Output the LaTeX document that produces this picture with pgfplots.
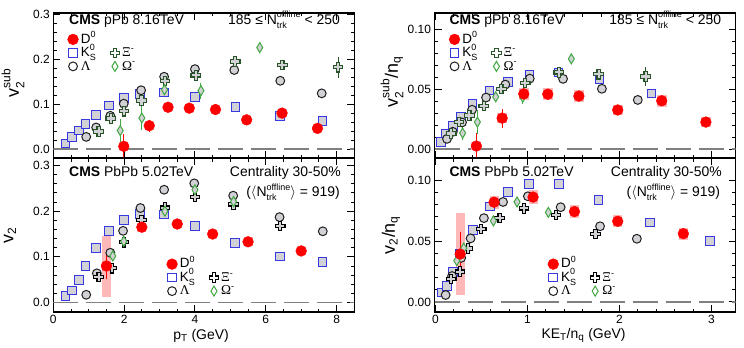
\documentclass[border=0pt]{standalone}
\usepackage{fontspec}
\setmainfont{Liberation Sans}
\newfontfamily\grk{Liberation Serif}
\usepackage{pgfplots}
\pgfplotsset{compat=1.18}

\newcommand\fs[1]{\fontsize{#1}{#1}\selectfont}
% stacked superscript/subscript in the text font
\newcommand\supsub[3][9]{\rlap{\raisebox{-0.45\dimexpr#1bp\relax}{\fs{#1}#3}}\raisebox{0.72\dimexpr#1bp\relax}{\fs{#1}#2}}
\newcommand\subs[2][9]{$_{\hbox{\fs{#1}#2}}$}
\newcommand\sups[2][9]{$^{\hbox{\fs{#1}#2}}$}

\definecolor{kscol}{rgb}{0.22,0.22,0.88}
\definecolor{lamcol}{rgb}{0.12,0.12,0.12}
\definecolor{xipp}{rgb}{0.16,0.33,0.16}
\definecolor{omcol}{rgb}{0.25,0.66,0.25}
\definecolor{sysgray}{rgb}{0.82,0.82,0.84}
\definecolor{dsys}{rgb}{1,0.72,0.72}
\definecolor{zerocol}{rgb}{0.5,0.5,0.5}

% open "plus" outline
\pgfdeclareplotmark{ocross}{%
  \pgfpathmoveto{\pgfqpoint{-0.34\pgfplotmarksize}{\pgfplotmarksize}}%
  \pgfpathlineto{\pgfqpoint{0.34\pgfplotmarksize}{\pgfplotmarksize}}%
  \pgfpathlineto{\pgfqpoint{0.34\pgfplotmarksize}{0.34\pgfplotmarksize}}%
  \pgfpathlineto{\pgfqpoint{\pgfplotmarksize}{0.34\pgfplotmarksize}}%
  \pgfpathlineto{\pgfqpoint{\pgfplotmarksize}{-0.34\pgfplotmarksize}}%
  \pgfpathlineto{\pgfqpoint{0.34\pgfplotmarksize}{-0.34\pgfplotmarksize}}%
  \pgfpathlineto{\pgfqpoint{0.34\pgfplotmarksize}{-\pgfplotmarksize}}%
  \pgfpathlineto{\pgfqpoint{-0.34\pgfplotmarksize}{-\pgfplotmarksize}}%
  \pgfpathlineto{\pgfqpoint{-0.34\pgfplotmarksize}{-0.34\pgfplotmarksize}}%
  \pgfpathlineto{\pgfqpoint{-\pgfplotmarksize}{-0.34\pgfplotmarksize}}%
  \pgfpathlineto{\pgfqpoint{-\pgfplotmarksize}{0.34\pgfplotmarksize}}%
  \pgfpathlineto{\pgfqpoint{-0.34\pgfplotmarksize}{0.34\pgfplotmarksize}}%
  \pgfpathclose
  \pgfusepathqfillstroke
}
% narrow open diamond
\pgfdeclareplotmark{odiam}{%
  \pgfpathmoveto{\pgfqpoint{0pt}{\pgfplotmarksize}}%
  \pgfpathlineto{\pgfqpoint{0.6\pgfplotmarksize}{0pt}}%
  \pgfpathlineto{\pgfqpoint{0pt}{-\pgfplotmarksize}}%
  \pgfpathlineto{\pgfqpoint{-0.6\pgfplotmarksize}{0pt}}%
  \pgfpathclose
  \pgfusepathqfillstroke
}

\pgfplotsset{
  panel/.style={scale only axis, width=301bp,
    axis line style={line width=1.1bp},
    every tick/.style={black, line width=0.9bp},
    major tick length=7bp, minor tick length=3.5bp,
    tick align=inside,
    tick label style={font=\fs{12}},
    /pgf/number format/assume math mode=true,
    legend cell align=left,
    legend columns=2,
    legend style={draw=none, fill=none, font=\fs{13.5}, inner sep=0pt, row sep=0pt,
      nodes={inner xsep=1.5bp, inner ysep=0.75bp, text height=9.75bp, text depth=2.25bp},
      /tikz/every odd column/.append style={column sep=1bp},
      /tikz/every even column/.append style={column sep=12bp}},
  },
  ebars/.style={
    /pgfplots/error bars/y dir=both, /pgfplots/error bars/y explicit,
    /pgfplots/error bars/error mark=none,
    /pgfplots/error bars/error bar style={line width=#1}},
  lmark/.style={only marks, legend image code/.code={\draw[mark repeat=2,mark phase=2,##1] plot coordinates {(0bp,0bp) (5.3bp,0bp) (10.6bp,0bp)};}},
  d0/.style={only marks, mark=*, mark size=5.4bp, red},
  ks/.style={only marks, mark=square*, mark size=4.3bp, kscol, mark options={line width=1bp, fill=sysgray}},
  lam/.style={only marks, mark=*, mark size=4.4bp, lamcol, mark options={line width=1bp, fill=sysgray}},
  xi/.style={only marks, mark=ocross, mark size=4.7bp, #1, mark options={line width=1.1bp, fill=sysgray}, ebars=1bp},
  om/.style={only marks, mark=odiam, mark size=5bp, omcol, mark options={line width=1bp, fill=sysgray}, ebars=1bp},
  dsyst/.style={only marks, mark=none, forget plot, dsys, ebars=#1},
  stat/.style={only marks, mark=none, forget plot, red, ebars=1bp},
  zero/.style={zerocol, line width=1.2bp, dash pattern=on 25bp off 8bp, forget plot},
  leg/.style={/pgfplots/legend style={at={(#1)}, anchor=north west}},
}

% legend block shared by all panels
\newcommand\speclegend[1]{%
  \addlegendimage{d0, lmark}\addlegendentry{D\sups{0}}
  \addlegendimage{empty legend}\addlegendentry{}
  \addlegendimage{ks, lmark, mark options={line width=1bp, fill=white}}\addlegendentry{K\supsub{0}{S}}
  \addlegendimage{only marks, mark=ocross, mark size=4.7bp, #1, lmark, mark options={line width=1.1bp, fill=white}}\addlegendentry{{\grk Ξ}\sups{-}}
  \addlegendimage{lam, lmark, mark options={line width=1bp, fill=white}}\addlegendentry{{\grk Λ}}
  \addlegendimage{only marks, mark=odiam, mark size=5bp, omcol, lmark, mark options={line width=1bp, fill=white}}\addlegendentry{{\grk Ω}\sups{-}}
}

\begin{document}
\begin{tikzpicture}
\path[use as bounding box] (0,0) rectangle (744bp,-348bp);

% ---------------- pPb, v2sub vs pT ----------------
\begin{axis}[panel, at={(53.3bp,-158bp)}, anchor=south west, height=145bp,
  xmin=0, xmax=8.5, ymin=-0.02, ymax=0.303,
  xtick={0,2,4,6,8}, minor x tick num=3, xticklabels={},
  ytick={0,0.1,0.2,0.3}, minor y tick num=4,
  yticklabel style={/pgf/number format/.cd, fixed, fixed zerofill, precision=1},
  leg={0.047,0.866}]
\addplot[zero] coordinates {(0,0) (8.5,0)};
\addplot[dsyst=9bp] table[x=x, y=y, y error plus=sp, y error minus=sm, row sep=\\] {
x y sm sp\\ 1.99 0.006 0.006 0.006\\ 2.71 0.052 0.007 0.007\\ 3.24 0.093 0.008 0.008\\
3.84 0.091 0.008 0.008\\ 4.58 0.088 0.007 0.007\\ 5.46 0.065 0.006 0.006\\
6.46 0.080 0.008 0.008\\ 7.46 0.046 0.006 0.006\\};
\addplot[forget plot, ks] table[row sep=\\] {
x y\\ 0.35 0.0125\\ 0.52 0.027\\ 0.73 0.041\\ 0.91 0.056\\ 1.20 0.076\\ 1.58 0.097\\
1.99 0.113\\ 2.45 0.122\\ 3.13 0.126\\ 4.00 0.116\\ 5.15 0.093\\ 6.41 0.074\\ 7.60 0.063\\};
\addplot[forget plot, lam] table[row sep=\\] {
x y\\ 0.93 0.027\\ 1.21 0.048\\ 1.61 0.074\\ 1.99 0.101\\ 2.48 0.131\\ 3.13 0.161\\
4.00 0.178\\ 5.11 0.176\\ 6.41 0.152\\ 7.58 0.124\\};
\addplot[forget plot, xi=xipp] table[x=x, y=y, y error=e, row sep=\\] {
x y e\\ 1.28 0.039 0.006\\ 1.62 0.068 0.006\\ 1.99 0.084 0.008\\ 2.49 0.108 0.008\\
3.15 0.151 0.010\\ 4.02 0.164 0.010\\ 5.14 0.195 0.010\\ 6.47 0.187 0.012\\ 8.04 0.182 0.024\\};
\addplot[forget plot, om] table[x=x, y=y, y error=e, row sep=\\] {
x y e\\ 1.89 0.041 0.026\\ 2.50 0.069 0.026\\ 3.14 0.132 0.012\\ 4.17 0.130 0.018\\ 5.83 0.226 0.008\\};
\addplot[stat] table[x=x, y=y, y error=e, row sep=\\] {
x y e\\ 1.99 0.006 0.028\\ 2.71 0.052 0.013\\ 3.24 0.093 0.005\\ 3.84 0.091 0.004\\
4.58 0.088 0.004\\ 5.46 0.065 0.004\\ 6.46 0.080 0.005\\ 7.46 0.046 0.006\\};
\addplot[forget plot, d0] table[row sep=\\] {
x y\\ 1.99 0.006\\ 2.71 0.052\\ 3.24 0.093\\ 3.84 0.091\\ 4.58 0.088\\ 5.46 0.065\\ 6.46 0.080\\ 7.46 0.046\\};
\speclegend{xipp}
\end{axis}

% ---------------- PbPb, v2 vs pT ----------------
\begin{axis}[panel, at={(53.3bp,-312bp)}, anchor=south west, height=154bp,
  xmin=0, xmax=8.5, ymin=-0.0207, ymax=0.3165,
  xtick={0,2,4,6,8}, minor x tick num=3,
  ytick={0,0.1,0.2,0.3}, minor y tick num=4,
  yticklabel style={/pgf/number format/.cd, fixed, fixed zerofill, precision=1},
  leg={0.376,0.356}]
\addplot[zero] coordinates {(0,0) (8.5,0)};
\addplot[dsyst=9bp] table[x=x, y=y, y error plus=sp, y error minus=sm, row sep=\\] {
x y sm sp\\ 1.5 0.080 0.068 0.066\\ 2.5 0.165 0.010 0.010\\ 3.5 0.172 0.009 0.009\\
4.5 0.150 0.009 0.009\\ 5.5 0.133 0.010 0.010\\ 7.0 0.113 0.008 0.008\\};
\addplot[forget plot, ks] table[row sep=\\] {
x y\\ 0.35 0.014\\ 0.52 0.026\\ 0.73 0.050\\ 0.91 0.080\\ 1.20 0.119\\ 1.58 0.157\\
1.99 0.181\\ 2.45 0.194\\ 3.13 0.193\\ 4.00 0.168\\ 5.13 0.130\\ 6.41 0.101\\ 7.60 0.089\\};
\addplot[forget plot, lam] table[row sep=\\] {
x y\\ 0.93 0.017\\ 1.23 0.064\\ 1.61 0.109\\ 1.97 0.157\\ 2.46 0.207\\ 3.13 0.247\\
3.98 0.261\\ 5.08 0.234\\ 6.39 0.187\\ 7.61 0.156\\};
\addplot[forget plot, xi=black] table[x=x, y=y, y error=e, row sep=\\] {
x y e\\ 1.28 0.056 0.003\\ 1.66 0.075 0.003\\ 1.99 0.132 0.003\\ 2.49 0.180 0.003\\
3.15 0.208 0.003\\ 4.00 0.231 0.004\\ 5.09 0.215 0.004\\ 6.41 0.168 0.005\\};
\addplot[forget plot, om] table[x=x, y=y, y error=e, row sep=\\] {
x y e\\ 1.68 0.102 0.004\\ 1.99 0.134 0.004\\ 3.15 0.200 0.004\\ 4.00 0.247 0.005\\ 5.09 0.221 0.005\\};
\addplot[stat] table[x=x, y=y, y error=e, row sep=\\] {
x y e\\ 1.5 0.080 0.028\\ 2.5 0.165 0.004\\ 3.5 0.172 0.004\\ 4.5 0.150 0.004\\ 5.5 0.133 0.005\\ 7.0 0.113 0.006\\};
\addplot[forget plot, d0] table[row sep=\\] {
x y\\ 1.5 0.080\\ 2.5 0.165\\ 3.5 0.172\\ 4.5 0.150\\ 5.5 0.133\\ 7.0 0.113\\};
\speclegend{black}
\end{axis}

% ---------------- pPb, v2sub/nq vs KET/nq ----------------
\begin{axis}[panel, at={(434.5bp,-158bp)}, anchor=south west, height=145bp,
  xmin=-0.009, xmax=3.262, ymin=-0.0075, ymax=0.1136,
  xtick={0,1,2,3}, minor x tick num=4, xticklabels={},
  ytick={0,0.05,0.1}, minor y tick num=4,
  yticklabel style={/pgf/number format/.cd, fixed, fixed zerofill, precision=2},
  leg={0.048,0.866}]
\addplot[zero] coordinates {(-0.009,0) (3.262,0)};
\addplot[dsyst=10bp] table[x=x, y=y, y error plus=sp, y error minus=sm, row sep=\\] {
x y sm sp\\ 0.446 0.0025 0.003 0.003\\ 0.726 0.0258 0.004 0.004\\ 0.961 0.0460 0.005 0.005\\
1.222 0.0458 0.005 0.005\\ 1.560 0.0442 0.005 0.005\\ 1.982 0.0326 0.004 0.004\\
2.460 0.0403 0.005 0.005\\ 2.940 0.0225 0.004 0.004\\};
\addplot[forget plot, ks] table[row sep=\\] {
x y\\ 0.062 0.0058\\ 0.116 0.0128\\ 0.192 0.0194\\ 0.276 0.0272\\ 0.406 0.0378\\ 0.587 0.0489\\
0.787 0.0558\\ 1.022 0.0619\\ 1.337 0.0638\\ 1.782 0.0585\\ 2.347 0.0465\\};
\addplot[forget plot, lam] table[row sep=\\] {
x y\\ 0.127 0.0085\\ 0.190 0.0144\\ 0.290 0.0222\\ 0.399 0.0328\\ 0.551 0.0430\\ 0.761 0.0538\\
1.026 0.0588\\ 1.388 0.0586\\ 1.810 0.0503\\ 2.200 0.0410\\};
\addplot[forget plot, xi=xipp] table[x=x, y=y, y error=e, row sep=\\] {
x y e\\ 0.173 0.0130 0.002\\ 0.256 0.0227 0.002\\ 0.370 0.0280 0.003\\ 0.526 0.0360 0.003\\
0.718 0.0500 0.003\\ 0.978 0.0550 0.003\\ 1.341 0.0640 0.003\\ 1.774 0.0624 0.004\\ 2.285 0.0606 0.008\\};
\addplot[forget plot, om] table[x=x, y=y, y error=e, row sep=\\] {
x y e\\ 0.297 0.0133 0.006\\ 0.457 0.0225 0.010\\ 0.656 0.0436 0.004\\ 0.950 0.0433 0.006\\ 1.478 0.0753 0.003\\};
\addplot[stat] table[x=x, y=y, y error=e, row sep=\\] {
x y e\\ 0.446 0.0025 0.011\\ 0.726 0.0258 0.008\\ 0.961 0.0460 0.005\\ 1.222 0.0458 0.003\\
1.560 0.0442 0.003\\ 1.982 0.0326 0.003\\ 2.460 0.0403 0.003\\ 2.940 0.0225 0.004\\};
\addplot[forget plot, d0] table[row sep=\\] {
x y\\ 0.446 0.0025\\ 0.726 0.0258\\ 0.961 0.0460\\ 1.222 0.0458\\ 1.560 0.0442\\
1.982 0.0326\\ 2.460 0.0403\\ 2.940 0.0225\\};
\speclegend{xipp}
\end{axis}

% ---------------- PbPb, v2/nq vs KET/nq ----------------
\begin{axis}[panel, at={(434.5bp,-312bp)}, anchor=south west, height=154bp,
  xmin=-0.009, xmax=3.262, ymin=-0.0083, ymax=0.1185,
  xtick={0,1,2,3}, minor x tick num=4,
  ytick={0,0.05,0.1}, minor y tick num=4,
  yticklabel style={/pgf/number format/.cd, fixed, fixed zerofill, precision=2},
  leg={0.376,0.356}]
\addplot[zero] coordinates {(-0.009,0) (3.262,0)};
\addplot[dsyst=9bp] table[x=x, y=y, y error plus=sp, y error minus=sm, row sep=\\] {
x y sm sp\\ 0.270 0.0394 0.0339 0.0336\\ 0.638 0.0821 0.0055 0.0055\\ 1.062 0.0863 0.006 0.006\\
1.512 0.0744 0.005 0.005\\ 1.982 0.0664 0.005 0.005\\ 2.695 0.0562 0.005 0.005\\};
\addplot[forget plot, ks] table[row sep=\\] {
x y\\ 0.066 0.0078\\ 0.127 0.0132\\ 0.192 0.0248\\ 0.270 0.0400\\ 0.410 0.0590\\ 0.591 0.0785\\
0.787 0.0904\\ 1.015 0.0970\\ 1.341 0.0970\\ 1.772 0.0840\\ 2.334 0.0653\\ 2.986 0.0504\\};
\addplot[forget plot, lam] table[row sep=\\] {
x y\\ 0.112 0.0057\\ 0.182 0.0213\\ 0.281 0.0363\\ 0.383 0.0523\\ 0.528 0.0690\\ 0.736 0.0823\\
1.006 0.0870\\ 1.362 0.0780\\ 1.790 0.0623\\ 2.190 0.0520\\};
\addplot[forget plot, xi=black] table[x=x, y=y, y error=e, row sep=\\] {
x y e\\ 0.173 0.0187 0.001\\ 0.267 0.0250 0.001\\ 0.356 0.0440 0.001\\ 0.499 0.0600 0.001\\
0.698 0.0693 0.001\\ 0.964 0.0770 0.001\\ 1.312 0.0717 0.001\\ 1.741 0.0560 0.002\\};
\addplot[forget plot, om] table[x=x, y=y, y error=e, row sep=\\] {
x y e\\ 0.233 0.0340 0.001\\ 0.309 0.0443 0.001\\ 0.631 0.0667 0.001\\ 0.888 0.0823 0.002\\ 1.228 0.0737 0.002\\};
\addplot[stat] table[x=x, y=y, y error=e, row sep=\\] {
x y e\\ 0.270 0.0394 0.018\\ 0.638 0.0821 0.002\\ 1.062 0.0863 0.002\\ 1.512 0.0744 0.002\\
1.982 0.0664 0.002\\ 2.695 0.0562 0.003\\};
\addplot[forget plot, d0] table[row sep=\\] {
x y\\ 0.270 0.0394\\ 0.638 0.0821\\ 1.062 0.0863\\ 1.512 0.0744\\ 1.982 0.0664\\ 2.695 0.0562\\};
\speclegend{black}
\end{axis}

% panel captions
\begin{scope}[every node/.style={inner sep=0pt, font=\fs{14}}]
\node[anchor=base west] at (69bp,-24bp) {\textbf{CMS} pPb 8.16TeV};
\node[anchor=base east] at (340bp,-24bp) {185 ≤ N\supsub[9]{offline}{trk} < 250};
\node[anchor=base west] at (69bp,-176.5bp) {\textbf{CMS} PbPb 5.02TeV};
\node[anchor=base east] at (341bp,-176.5bp) {Centrality 30-50\%};
\node[anchor=base east] at (340bp,-196.5bp) {($\langle$N\supsub[9]{offline}{trk}$\rangle$ = 919)};
\node[anchor=base west] at (449.3bp,-24bp) {\textbf{CMS} pPb 8.16TeV};
\node[anchor=base east] at (721.3bp,-24bp) {185 ≤ N\supsub[9]{offline}{trk} < 250};
\node[anchor=base west] at (449.3bp,-176.5bp) {\textbf{CMS} PbPb 5.02TeV};
\node[anchor=base east] at (722bp,-176.5bp) {Centrality 30-50\%};
\node[anchor=base east] at (720.3bp,-196.5bp) {($\langle$N\supsub[9]{offline}{trk}$\rangle$ = 919)};
\end{scope}

% axis titles
\begin{scope}[every node/.style={inner sep=0pt}]
\node[rotate=90, font=\fs{18}] at (13bp,-83bp) {v\supsub[12]{sub}{2}};
\node[rotate=90, font=\fs{18}] at (10bp,-235bp) {v\subs[12]{2}};
\node[rotate=90, font=\fs{18}] at (392bp,-82bp) {v\supsub[12]{sub}{2}/n\subs[12]{q}};
\node[rotate=90, font=\fs{18}] at (391bp,-235bp) {v\subs[12]{2}/n\subs[12]{q}};
\node[anchor=base, font=\fs{14}] at (201bp,-339bp) {p\subs[10]{T} (GeV)};
\node[anchor=base, font=\fs{14}] at (583.5bp,-338bp) {KE\subs[10]{T}/n\subs[10]{q} (GeV)};
\end{scope}
\end{tikzpicture}
\end{document}
